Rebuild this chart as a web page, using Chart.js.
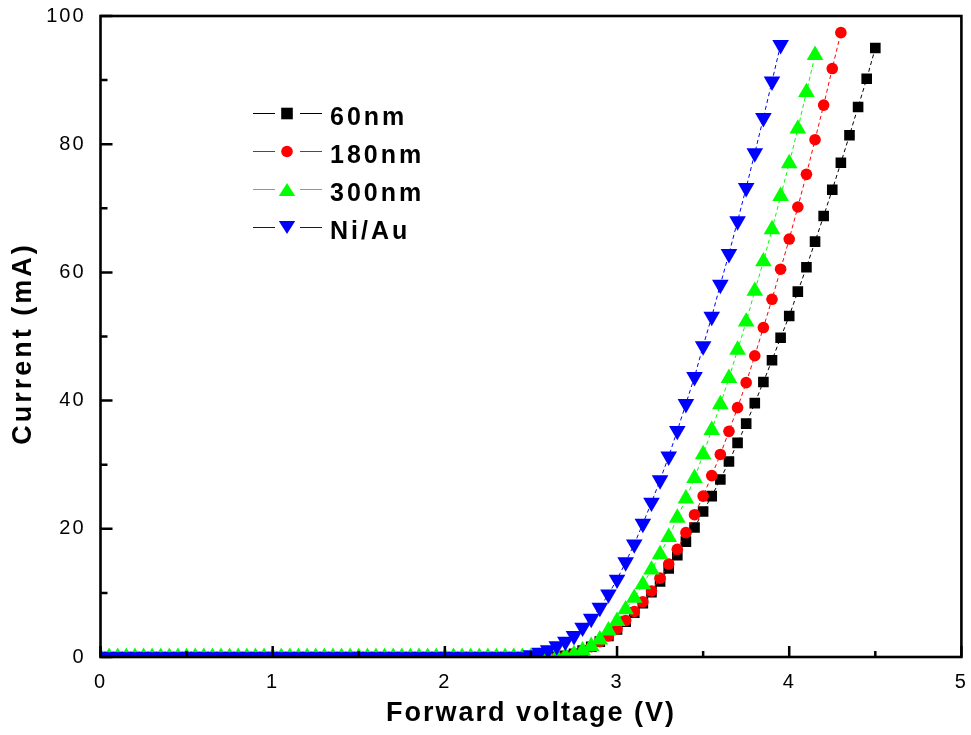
<!DOCTYPE html>
<html><head><meta charset="utf-8">
<script src="https://cdn.jsdelivr.net/npm/chart.js@4.4.1/dist/chart.umd.min.js"></script>
<style>html,body{margin:0;padding:0;background:#fff;}#wrap{width:971px;height:735px;}</style>
</head><body><div id="wrap"><canvas id="c" width="971" height="735"></canvas></div>
<script>
// ---------- data ----------
const voltage = [0,0.05,0.1,0.15,0.2,0.25,0.3,0.35,0.4,0.45,0.5,0.55,0.6,0.65,0.7,0.75,0.8,0.85,0.9,0.95,
  1,1.05,1.1,1.15,1.2,1.25,1.3,1.35,1.4,1.45,1.5,1.55,1.6,1.65,1.7,1.75,1.8,1.85,1.9,1.95,
  2,2.05,2.1,2.15,2.2,2.25,2.3,2.35,2.4,2.45,2.5,2.55,2.6,2.65,2.7,2.75,2.8,2.85,2.9,2.95,
  3,3.05,3.1,3.15,3.2,3.25,3.3,3.35,3.4,3.45,3.5,3.55,3.6,3.65,3.7,3.75,3.8,3.85,3.9,3.95,
  4,4.05,4.1,4.15,4.2,4.25,4.3,4.35,4.4,4.45,4.5];

const current60nm = [0,0,0,0,0,0,0,0,0,0, 0,0,0,0,0,0,0,0,0,0, 0,0,0,0,0,0,0,0,0,0,
  0,0,0,0,0,0,0,0,0,0, 0,0,0,0,0,0,0,0,0,0, 0,0,0,
  0.05,0.2,0.5,1.0,1.6,2.4,3.3,4.3,5.5,6.9,8.4,10.1,11.8,13.8,15.9,18.0,20.2,22.7,25.1,27.7,
  30.5,33.4,36.4,39.6,42.9,46.3,49.8,53.2,57.0,60.8,64.8,68.8,72.9,77.1,81.4,85.8,90.2,95.0];

const current180nm = [0,0,0,0,0,0,0,0,0,0, 0,0,0,0,0,0,0,0,0,0, 0,0,0,0,0,0,0,0,0,0,
  0,0,0,0,0,0,0,0,0,0, 0,0,0,0,0,0,0,0,0,0, 0,0,0,0,
  0.1,0.4,0.9,1.6,2.4,3.3,4.4,5.7,7.1,8.6,10.3,12.3,14.5,16.8,19.4,22.2,25.1,28.3,31.6,35.2,
  38.9,42.8,47.0,51.4,55.8,60.5,65.2,70.2,75.3,80.7,86.1,91.8,97.4];

const current300nm = [0,0,0,0,0,0,0,0,0,0, 0,0,0,0,0,0,0,0,0,0, 0,0,0,0,0,0,0,0,0,0,
  0,0,0,0,0,0,0,0,0,0, 0,0,0,0,0,0,0,0,0,0, 0,0,0,0,
  0.1,0.4,1.0,1.7,2.7,4.1,5.6,7.4,9.2,11.3,13.6,16.0,18.7,21.7,24.7,27.9,31.6,35.4,39.4,43.5,
  47.9,52.3,57.1,61.7,66.7,71.9,77.0,82.4,88.1,93.9];

const currentNiAu = [0,0,0,0,0,0,0,0,0,0, 0,0,0,0,0,0,0,0,0,0, 0,0,0,0,0,0,0,0,0,0,
  0,0,0,0,0,0,0,0,0,0, 0,0,0,0,0,0,0,0,0,0,
  0.3,0.7,1.1,1.7,2.4,3.3,4.6,6.0,7.7,9.8,12.1,14.8,17.6,20.8,24.1,27.6,31.3,35.3,39.5,43.7,
  48.5,53.1,58.1,62.9,68.0,73.2,78.6,84.1,89.8,95.5];

const seriesNames = ['60nm', '180nm', '300nm', 'Ni/Au'];
const xTickLabels = ['0', '1', '2', '3', '4', '5'];
const yTickLabels = ['0', '20', '40', '60', '80', '100'];

// ---------- styles ----------
const FONT = '"Liberation Sans", Arial, sans-serif';
const colors = ['#000000', '#ff0000', '#00ff00', '#0000ff'];
const seriesCurrents = [current60nm, current180nm, current300nm, currentNiAu];
const markerStyles = [
  {pointStyle: 'rect', radius: 7.5, rotation: 0},
  {pointStyle: 'circle', radius: 5.8, rotation: 0},
  {pointStyle: 'triangle', radius: 9.6, rotation: 0},
  {pointStyle: 'triangle', radius: 9.6, rotation: 180}
];

const datasets = seriesCurrents.map((cur, i) => ({
  label: seriesNames[i],
  data: cur.map((c, k) => ({x: voltage[k], y: c})),
  borderColor: colors[i],
  backgroundColor: colors[i],
  borderWidth: 1,
  borderDash: [4, 3],
  tension: 0,
  pointStyle: markerStyles[i].pointStyle,
  pointRadius: markerStyles[i].radius,
  pointHoverRadius: markerStyles[i].radius,
  pointRotation: markerStyles[i].rotation,
  pointBorderWidth: 0,
  pointBackgroundColor: colors[i],
  order: 4 - i
}));

// letter spacing for axis texts
const SPACING = {
  x: {ticks: 2, title: 2, dx: 0, dy: 0},
  y: {ticks: 2, title: 3, dx: 0, dy: 7}
};
const spacingPlugin = {
  id: 'spacing',
  beforeDraw(chart) {
    Object.values(chart.scales).forEach(s => {
      if (s._wrappedSpacing) return;
      s._wrappedSpacing = true;
      const cfg = SPACING[s.id];
      const dl = s.drawLabels.bind(s);
      const dt = s.drawTitle.bind(s);
      s.drawLabels = function (area) {
        const c = this.ctx; c.save(); c.letterSpacing = cfg.ticks + 'px'; dl(area); c.restore();
      };
      s.drawTitle = function () {
        const c = this.ctx; c.save(); c.letterSpacing = cfg.title + 'px'; c.translate(cfg.dx, cfg.dy); dt(); c.restore();
      };
    });
  }
};

// inward ticks and frame
const framePlugin = {
  id: 'frame',
  afterDatasetsDraw(chart) {
    const {ctx, chartArea: a} = chart;
    const xs = chart.scales.x, ys = chart.scales.y;
    ctx.save();
    ctx.strokeStyle = '#000';
    ctx.lineWidth = 2.5;
    ctx.setLineDash([]);
    ctx.beginPath();
    xs.ticks.forEach(t => {
      const px = xs.getPixelForValue(t.value);
      const major = Math.abs(t.value - Math.round(t.value)) < 1e-6;
      const len = major ? 11 : 6;
      ctx.moveTo(px, a.bottom); ctx.lineTo(px, a.bottom - len);
    });
    ys.ticks.forEach(t => {
      const py = ys.getPixelForValue(t.value);
      const major = Math.abs(t.value / 20 - Math.round(t.value / 20)) < 1e-6;
      const len = major ? 12 : 7;
      ctx.moveTo(a.left, py); ctx.lineTo(a.left + len, py);
    });
    ctx.stroke();
    ctx.lineWidth = 2.6;
    ctx.strokeRect(a.left, a.top, a.right - a.left, a.bottom - a.top);
    ctx.restore();
  }
};

// legend: line - marker - line  label
const legendPlugin = {
  id: 'customLegend',
  afterDraw(chart) {
    const ctx = chart.ctx;
    const rows = [113.5, 151.5, 189.5, 227.5];
    ctx.save();
    rows.forEach((y, i) => {
      ctx.strokeStyle = colors[i];
      ctx.fillStyle = colors[i];
      ctx.lineWidth = 1.2;
      ctx.setLineDash([]);
      ctx.beginPath();
      ctx.moveTo(253, y); ctx.lineTo(275, y);
      ctx.moveTo(300, y); ctx.lineTo(322, y);
      ctx.stroke();
      const mx = 287;
      ctx.beginPath();
      if (i === 0) {
        ctx.rect(mx - 5.8, y - 5.8, 11.6, 11.6);
      } else if (i === 1) {
        ctx.arc(mx, y, 5.8, 0, Math.PI * 2);
      } else if (i === 2) {
        ctx.moveTo(mx, y - 6.5); ctx.lineTo(mx + 8.2, y + 6.5); ctx.lineTo(mx - 8.2, y + 6.5); ctx.closePath();
      } else {
        ctx.moveTo(mx, y + 6.5); ctx.lineTo(mx + 8.2, y - 6.5); ctx.lineTo(mx - 8.2, y - 6.5); ctx.closePath();
      }
      ctx.fill();
      ctx.fillStyle = '#000';
      ctx.font = 'bold 25px ' + FONT;
      ctx.letterSpacing = '3px';
      ctx.textAlign = 'left';
      ctx.textBaseline = 'alphabetic';
      ctx.fillText(seriesNames[i], 330, y + 11.3);
    });
    ctx.restore();
  }
};

function zeroPad(s) { s.paddingTop = 0; s.paddingBottom = 0; s.paddingLeft = 0; s.paddingRight = 0; }

new Chart(document.getElementById('c'), {
  type: 'line',
  data: {datasets},
  options: {
    responsive: false,
    animation: false,
    events: [],
    layout: {padding: {left: 0, top: 16, right: 7.5, bottom: 0}},
    plugins: {legend: {display: false}, tooltip: {enabled: false}},
    scales: {
      x: {
        type: 'linear', min: 0, max: 5,
        grid: {display: false, drawTicks: false},
        border: {display: false},
        ticks: {
          stepSize: 0.5, autoSkip: false, maxRotation: 0, padding: 13, color: '#000',
          font: {family: FONT, size: 20},
          callback: v => (Math.abs(v - Math.round(v)) < 1e-6 ? xTickLabels[Math.round(v)] : '')
        },
        title: {display: true, text: 'Forward voltage (V)', color: '#000',
          font: {family: FONT, size: 27, weight: 'bold'}, padding: {top: 0, bottom: 5}},
        afterFit(s) { s.height = 78; zeroPad(s); }
      },
      y: {
        type: 'linear', min: 0, max: 100,
        grid: {display: false, drawTicks: false},
        border: {display: false},
        ticks: {
          stepSize: 10, autoSkip: false, padding: 15, color: '#000',
          font: {family: FONT, size: 20},
          callback: v => (Math.abs(v / 20 - Math.round(v / 20)) < 1e-6 ? yTickLabels[Math.round(v / 20)] : '')
        },
        title: {display: true, text: 'Current (mA)', color: '#000',
          font: {family: FONT, size: 27, weight: 'bold'}, padding: {top: 7, bottom: 0}},
        afterFit(s) { s.width = 100.5; zeroPad(s); }
      }
    }
  },
  plugins: [spacingPlugin, framePlugin, legendPlugin]
});
</script>
</body></html>
